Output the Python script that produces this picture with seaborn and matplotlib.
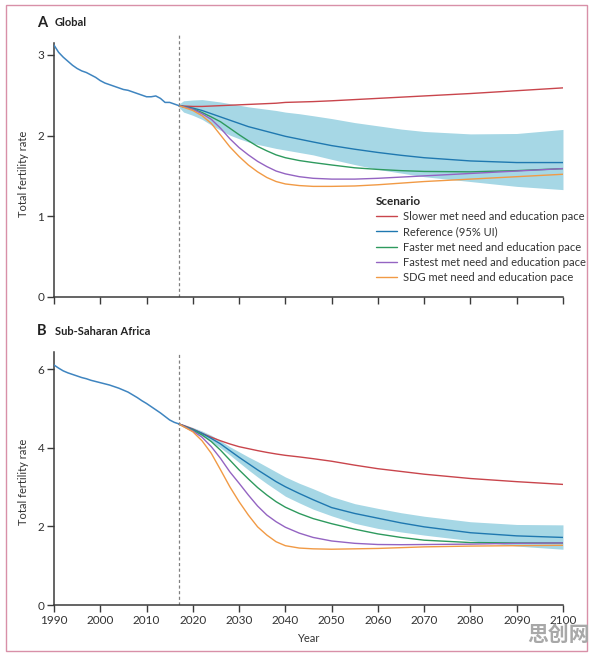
import pandas as pd
import seaborn as sns
import matplotlib.pyplot as plt
from matplotlib.lines import Line2D
from matplotlib.patches import Rectangle

hist_years = list(range(1990, 2018))
global_hist = [3.12, 3.03, 2.97, 2.92, 2.87, 2.83, 2.80, 2.78, 2.75, 2.72,
               2.68, 2.65, 2.63, 2.61, 2.59, 2.57, 2.56, 2.54, 2.52, 2.50,
               2.48, 2.48, 2.49, 2.46, 2.41, 2.41, 2.39, 2.37]
ssa_hist = [6.11, 6.03, 5.96, 5.91, 5.87, 5.83, 5.79, 5.76, 5.72, 5.69,
            5.66, 5.63, 5.60, 5.56, 5.52, 5.47, 5.42, 5.35, 5.28, 5.20,
            5.13, 5.05, 4.97, 4.89, 4.80, 4.71, 4.65, 4.61]

proj_years = [2017, 2018, 2020, 2022, 2024, 2026, 2028, 2030, 2032, 2034, 2036, 2038,
              2040, 2043, 2046, 2050, 2055, 2060, 2065, 2070, 2080, 2090, 2100]

# Global
glob_slower = [2.37, 2.365, 2.36, 2.36, 2.365, 2.37, 2.375, 2.38, 2.385, 2.39, 2.395, 2.40,
               2.41, 2.415, 2.42, 2.43, 2.445, 2.46, 2.475, 2.49, 2.52, 2.555, 2.59]
glob_ref = [2.37, 2.36, 2.34, 2.31, 2.27, 2.23, 2.19, 2.15, 2.11, 2.08, 2.05, 2.02,
            1.99, 1.955, 1.92, 1.875, 1.83, 1.79, 1.755, 1.725, 1.685, 1.665, 1.665]
glob_faster = [2.37, 2.355, 2.33, 2.285, 2.23, 2.17, 2.09, 2.01, 1.935, 1.865, 1.81, 1.76,
               1.725, 1.69, 1.665, 1.635, 1.60, 1.58, 1.565, 1.555, 1.55, 1.565, 1.59]
glob_fastest = [2.37, 2.355, 2.325, 2.27, 2.20, 2.09, 1.96, 1.85, 1.76, 1.68, 1.615, 1.56,
                1.525, 1.49, 1.47, 1.46, 1.46, 1.47, 1.485, 1.50, 1.53, 1.56, 1.59]
glob_sdg = [2.37, 2.35, 2.31, 2.245, 2.15, 2.005, 1.86, 1.74, 1.635, 1.55, 1.48, 1.43,
            1.40, 1.38, 1.37, 1.37, 1.375, 1.39, 1.41, 1.43, 1.46, 1.49, 1.52]
glob_upper = [2.39, 2.43, 2.44, 2.445, 2.43, 2.415, 2.395, 2.375, 2.355, 2.34, 2.325, 2.31,
              2.29, 2.27, 2.245, 2.21, 2.16, 2.12, 2.08, 2.05, 2.02, 2.025, 2.075]
glob_lower = [2.35, 2.29, 2.25, 2.20, 2.13, 2.065, 2.005, 1.96, 1.92, 1.89, 1.865, 1.84,
              1.82, 1.79, 1.76, 1.705, 1.64, 1.58, 1.535, 1.49, 1.43, 1.37, 1.33]

# Sub-Saharan Africa
ssa_slower = [4.61, 4.57, 4.48, 4.37, 4.27, 4.18, 4.10, 4.03, 3.98, 3.93, 3.885, 3.845,
              3.81, 3.77, 3.725, 3.66, 3.56, 3.47, 3.40, 3.33, 3.22, 3.14, 3.07]
ssa_ref = [4.61, 4.56, 4.47, 4.37, 4.24, 4.10, 3.93, 3.76, 3.60, 3.44, 3.29, 3.14,
           3.01, 2.84, 2.68, 2.48, 2.33, 2.21, 2.09, 1.99, 1.84, 1.76, 1.72]
ssa_faster = [4.61, 4.55, 4.45, 4.33, 4.16, 3.94, 3.69, 3.44, 3.21, 2.99, 2.80, 2.63,
              2.49, 2.33, 2.20, 2.07, 1.93, 1.81, 1.72, 1.65, 1.59, 1.58, 1.58]
ssa_fastest = [4.61, 4.55, 4.43, 4.27, 4.03, 3.73, 3.39, 3.10, 2.80, 2.52, 2.29, 2.12,
               1.98, 1.83, 1.72, 1.63, 1.57, 1.54, 1.535, 1.54, 1.55, 1.57, 1.58]
ssa_sdg = [4.61, 4.54, 4.41, 4.18, 3.86, 3.44, 3.01, 2.63, 2.29, 1.99, 1.78, 1.61,
           1.51, 1.45, 1.43, 1.42, 1.43, 1.44, 1.46, 1.48, 1.50, 1.51, 1.52]
ssa_upper = [4.63, 4.60, 4.52, 4.43, 4.32, 4.18, 4.03, 3.90, 3.77, 3.65, 3.52, 3.39,
             3.26, 3.10, 2.96, 2.76, 2.58, 2.46, 2.35, 2.26, 2.12, 2.05, 2.04]
ssa_lower = [4.59, 4.53, 4.41, 4.30, 4.16, 4.00, 3.82, 3.63, 3.44, 3.26, 3.09, 2.93,
             2.77, 2.60, 2.44, 2.27, 2.08, 1.95, 1.86, 1.78, 1.64, 1.50, 1.42]

scenarios = ['Slower met need and education pace', 'Reference (95% UI)',
             'Faster met need and education pace', 'Fastest met need and education pace',
             'SDG met need and education pace']
colors = ['#c9454c', '#1f78b0', '#2e9a5e', '#9464c2', '#f19a45']
hist_color = '#3f85c0'
band_color = '#a6d7e5'

sns.set_style('ticks')
plt.rcParams['font.family'] = ['Lato', 'DejaVu Sans']

fig = plt.figure(figsize=(5.96, 6.53), dpi=100)
axA = fig.add_axes([0.0906, 0.5452, 0.8540, 0.4043])
axB = fig.add_axes([0.0906, 0.0735, 0.8540, 0.3874])

panels = [
    (axA, global_hist, [glob_slower, glob_ref, glob_faster, glob_fastest, glob_sdg], glob_upper, glob_lower, 3.27, 3.14, [0, 1, 2, 3]),
    (axB, ssa_hist, [ssa_slower, ssa_ref, ssa_faster, ssa_fastest, ssa_sdg], ssa_upper, ssa_lower, 6.44, 6.44, [0, 2, 4, 6]),
]

for ax, hist, series, upper, lower, ytop, spine_top, yticks in panels:
    ax.fill_between(proj_years, lower, upper, color=band_color, lw=0, zorder=1)
    long = pd.DataFrame({
        'year': proj_years * len(scenarios),
        'tfr': sum(series, []),
        'scenario': [s for s in scenarios for _ in proj_years],
    })
    sns.lineplot(data=long, x='year', y='tfr', hue='scenario', hue_order=scenarios,
                 palette=colors, ax=ax, legend=False, lw=1.0, zorder=3)
    sns.lineplot(x=hist_years, y=hist, ax=ax, color=hist_color, lw=1.1, zorder=3)
    ax.axvline(2017, color='#808080', lw=0.9, ls=(0, (2.5, 2)), zorder=2)

    ax.set_xlim(1990, 2100)
    ax.set_ylim(0, ytop)
    ax.set_xticks(range(1990, 2101, 10))
    ax.set_yticks(yticks)
    sns.despine(ax=ax)
    ax.spines['left'].set_bounds(0, spine_top)
    for s in ['left', 'bottom']:
        ax.spines[s].set_color('#3a3a3a')
        ax.spines[s].set_linewidth(1.1)
    ax.tick_params(direction='out', length=5, width=1, color='#3a3a3a',
                   labelsize=8.5, labelcolor='#333333', pad=2)
    ax.set_xlabel('')
    ax.set_ylabel('Total fertility rate', fontsize=8, color='#333333')

axA.tick_params(axis='x', labelbottom=False)
axA.yaxis.set_label_coords(-0.05, 0.466)
axB.yaxis.set_label_coords(-0.05, 0.486)
axB.set_xlabel('Year', fontsize=8, color='#333333', labelpad=5)

handles = [Line2D([], [], color=c, lw=1.0) for c in colors]
leg = axA.legend(handles, scenarios, title='Scenario', loc='upper left',
                 bbox_to_anchor=(0.633, 0.383), frameon=False, fontsize=8,
                 title_fontproperties={'weight': 'bold', 'size': 8.5},
                 handlelength=1.9, handletextpad=0.55, labelspacing=0.38,
                 borderpad=0, borderaxespad=0, alignment='left')
for t in leg.get_texts():
    t.set_color('#333333')

fig.text(0.062, 0.965, 'A', fontsize=10.5, fontweight='bold', va='center', color='#222222')
fig.text(0.092, 0.965, 'Global', fontsize=8, fontweight='bold', va='center', color='#222222')
fig.text(0.062, 0.493, 'B', fontsize=10.5, fontweight='bold', va='center', color='#222222')
fig.text(0.092, 0.493, 'Sub-Saharan Africa', fontsize=8, fontweight='bold', va='center', color='#222222')

fig.patches.append(Rectangle((6 / 596, 2 / 653), 581 / 596, 646 / 653, transform=fig.transFigure,
                             fill=False, edgecolor='#d890a8', lw=1.0))
fig.text(0.99, 0.012, '思创网', fontsize=15, fontweight='bold', color='#a8a8a8',
         ha='right', va='bottom', family=['Noto Sans CJK SC', 'DejaVu Sans'])

fig.savefig('out.png', dpi=100)
